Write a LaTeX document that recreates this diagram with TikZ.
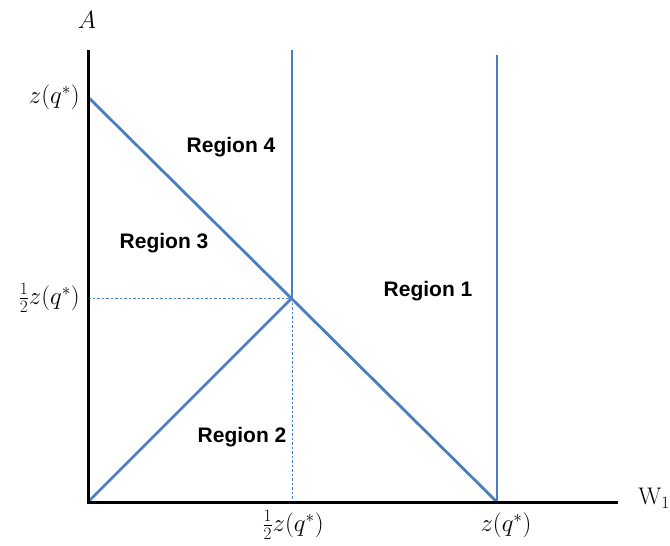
\documentclass[tikz,border=0pt]{standalone}
\usepackage{fontspec}
\newfontfamily\regfont{Liberation Sans}
\begin{document}
\begin{tikzpicture}[x=1pt,y=-1pt,
  axis/.style={line width=3pt,black},
  bl/.style={line width=2.8pt,color=blueline},
  guide/.style={line width=0.9pt,color=blueline,dash pattern=on 2.5pt off 2pt},
  reg/.style={font=\regfont\bfseries\fontsize{21}{24}\selectfont},
  lab/.style={font=\fontsize{24}{28}\selectfont,inner sep=0pt}]
\definecolor{blueline}{HTML}{4A7EBF}
\useasboundingbox (0,0) rectangle (670,546);
\coordinate (O) at (88,502);
\coordinate (Ytop) at (88,50);
\coordinate (Xend) at (618,502);
\coordinate (Z) at (88,97);
\coordinate (H) at (88,298);
\coordinate (M) at (292,298);
\coordinate (Mb) at (292,502);
\coordinate (Mt) at (292,50);
\coordinate (Zx) at (497,502);
\coordinate (Zt) at (497,55);
% guides
\draw[guide] (H) -- (M);
\draw[guide] (M) -- (Mb);
% blue lines
\draw[bl] (Z) -- (Zx);
\draw[bl] (O) -- (M);
\draw[bl] (Mt) -- (M);
\draw[bl] (Zt) -- (Zx);
% axes
\draw[axis] (Ytop) -- (O) -- (Xend);
% labels
\node[lab,font=\fontsize{30}{34}\selectfont] (lA) at (87,20) {$A$};
\node[lab] (lW) at (654,498) {W$_1$};
\node[lab,anchor=east] (lz) at (80,97) {$z(q^*)$};
\node[lab,anchor=east] (lh) at (80,298) {$\frac{1}{2}z(q^*)$};
\node[lab] (xh) at (293,525) {$\frac{1}{2}z(q^*)$};
\node[lab] (xz) at (506,525) {$z(q^*)$};
\node[reg] (r4) at (231,147) {Region 4};
\node[reg] (r3) at (164,243) {Region 3};
\node[reg] (r1) at (428,291) {Region 1};
\node[reg] (r2) at (242,437) {Region 2};
\end{tikzpicture}
\end{document}
